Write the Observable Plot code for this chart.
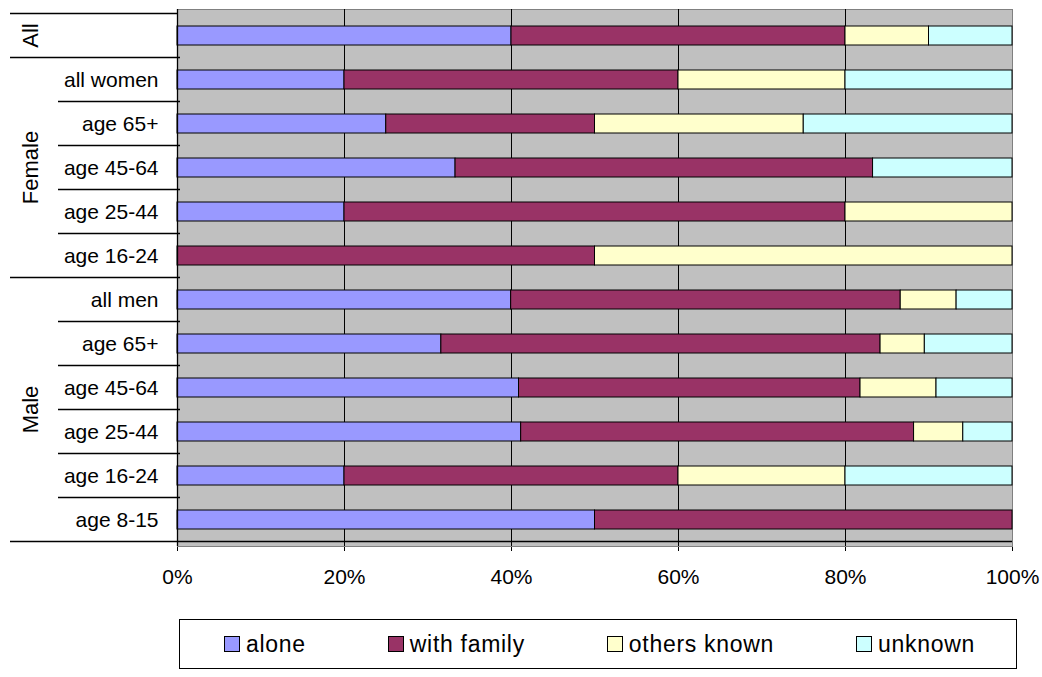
<!DOCTYPE html>
<html>
<head>
<meta charset="utf-8">
<script src="https://cdn.jsdelivr.net/npm/d3@7"></script>
<script src="https://cdn.jsdelivr.net/npm/@observablehq/plot@0.6"></script>
<style>
  html, body { margin: 0; padding: 0; background: #fff; }
  body { position: relative; width: 1042px; height: 677px; overflow: hidden; font-family: "Liberation Sans", Arial, sans-serif; }
  #legend {
    position: absolute; left: 179px; top: 619px; width: 838px; height: 50px;
    box-sizing: border-box; border: 1px solid #000; background: #fff;
    display: flex; align-items: center; padding-left: 44px; gap: 82px;
    font-size: 23px; letter-spacing: 0.7px; color: #000;
  }
  #legend .item { display: flex; align-items: center; white-space: nowrap; }
  #legend .sw { width: 14px; height: 14px; border: 1px solid #000; margin-right: 6px; }
</style>
</head>
<body>
<div id="chart"></div>
<div id="legend"></div>
<script>
// ---- data ----
const cats = ["alone", "with family", "others known", "unknown"];
const colors = ["#9999FF", "#993366", "#FFFFCC", "#CCFFFF"];
const groups = ["All", "Female", "Male"];
const rowGroup = ["All", "Female", "Female", "Female", "Female", "Female", "Male", "Male", "Male", "Male", "Male", "Male"];
const rowLabels = ["", "all women", "age 65+", "age 45-64", "age 25-44", "age 16-24", "all men", "age 65+", "age 45-64", "age 25-44", "age 16-24", "age 8-15"];
const alone       = [40, 20, 25, 33.3, 20,  0, 40,   31.6, 40.9, 41.2, 20, 50];
const withFamily  = [40, 40, 25, 50,   60, 50, 46.7, 52.6, 40.9, 47.1, 40, 50];
const othersKnown = [10, 20, 25, 0,    20, 50, 6.7,  5.3,  9.1,  5.9,  20, 0];
const unknown     = [10, 20, 25, 16.7, 0,   0, 6.7,  10.5, 9.1,  5.9,  20, 0];
const xTicks = [0, 0.2, 0.4, 0.6, 0.8, 1];

(function () {
// ---- table ----
const keys = rowLabels.map((_, i) => String(i));
const series = [alone, withFamily, othersKnown, unknown];
const data = [];
keys.forEach((k, i) => cats.forEach((c, j) => {
  if (series[j][i] > 0) data.push({key: k, cat: c, value: series[j][i]});
}));

const font = '"Liberation Sans", Arial, sans-serif';

const chart = Plot.plot({
  width: 1042,
  height: 600,
  marginTop: 9,
  marginBottom: 54,
  marginLeft: 177,
  marginRight: 30,
  style: {fontFamily: font, fontSize: "21px", color: "#000", background: "#fff", overflow: "visible"},
  x: {domain: [0, 1], ticks: xTicks, tickFormat: d3.format(".0%"), tickSize: 5, tickPadding: 18, label: null},
  y: {domain: keys, paddingInner: 0.575, paddingOuter: 0.2875, align: 0.5, tickSize: 0, tickPadding: 19,
      tickFormat: k => rowLabels[+k], label: null},
  color: {domain: cats, range: colors},
  marks: [
    Plot.frame({fill: "#C0C0C0", stroke: "#808080"}),
    Plot.ruleX(xTicks.slice(1, -1), {stroke: "#000", strokeWidth: 1}),
    Plot.barX(data, Plot.stackX({x: "value", y: "key", fill: "cat", order: cats, offset: "normalize",
      stroke: "#000", strokeWidth: 1})),
    Plot.ruleX([0], {stroke: "#000", strokeWidth: 1.3})
  ]
});
document.getElementById("chart").appendChild(chart);

// ---- group separators and labels in the left margin, positioned via the plot's scales ----
const svg = d3.select(chart);
const ys = chart.scale("y");
const xs = chart.scale("x");
const step = ys.step, bw = ys.bandwidth;
const off = (step - bw) / 2;
const x0 = xs.apply(0), x1 = xs.apply(1);
const rowTop = i => ys.apply(keys[i]) - off;
const g = svg.append("g").attr("stroke", "#000").attr("stroke-width", 1.3);
g.append("line").attr("x1", 10).attr("x2", x0).attr("y1", rowTop(0)).attr("y2", rowTop(0));
for (let i = 1; i < keys.length; i++) {
  const yy = rowTop(i);
  const long = rowGroup[i] !== rowGroup[i - 1];
  g.append("line").attr("x1", long ? 10 : 58).attr("x2", x0 + 3).attr("y1", yy).attr("y2", yy);
}
const yb = rowTop(keys.length - 1) + step;
g.append("line").attr("x1", 10).attr("x2", x1).attr("y1", yb).attr("y2", yb);

groups.forEach(gr => {
  const idx = rowGroup.map((r, i) => r === gr ? i : -1).filter(i => i >= 0);
  const cy = (rowTop(idx[0]) + rowTop(idx[idx.length - 1]) + step) / 2;
  svg.append("text")
    .attr("transform", `translate(30,${cy}) rotate(-90)`)
    .attr("text-anchor", "middle")
    .attr("dy", "0.35em")
    .attr("font-family", font)
    .attr("font-size", 22)
    .attr("fill", "#000")
    .text(gr);
});

// ---- legend ----
const legend = d3.select("#legend");
cats.forEach((c, i) => {
  const it = legend.append("div").attr("class", "item");
  it.append("div").attr("class", "sw").style("background", colors[i]);
  it.append("span").text(c);
});
})();
</script>
</body>
</html>
